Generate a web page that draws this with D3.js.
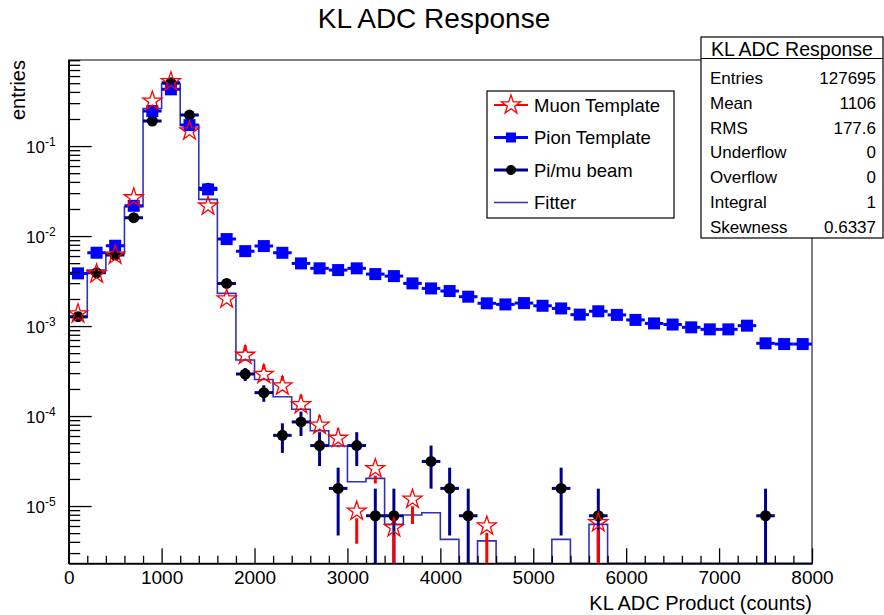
<!DOCTYPE html>
<html>
<head>
<meta charset="utf-8">
<script src="https://cdn.jsdelivr.net/npm/d3@7"></script>
<style>
body { margin: 0; background: #fff; }
svg text { font-family: "Liberation Sans", Arial, Helvetica, sans-serif; fill: #000; }
</style>
</head>
<body>
<script>
// histogram bins, 200 counts wide
var binCenters = d3.range(100, 8000, 200);
var binHalf = 100;

var pionTemplate = [0.00385, 0.00653, 0.00781, 0.0217, 0.245, 0.427, 0.171, 0.033, 0.00926, 0.0068,
  0.00774, 0.00652, 0.00497, 0.00438, 0.00419, 0.00438, 0.00378, 0.00359, 0.00298, 0.00262,
  0.00245, 0.00212, 0.00179, 0.00174, 0.0018, 0.00168, 0.00157, 0.00134, 0.00146, 0.00133,
  0.00117, 0.00107, 0.00104, 0.000968, 0.000919, 0.000919, 0.00101, 0.000643, 0.000631, 0.000631];

var muonTemplate = [0.0014, 0.0039, 0.0063, 0.0273, 0.324, 0.532, 0.151, 0.0221, 0.00205, 0.000485,
  0.000298, 0.000221, 0.000137, 8.1e-5, 5.8e-5, 9.0e-6, 2.67e-5, 5.9e-6, 1.22e-5, 0,
  0, 0, 6.15e-6, 0, 0, 0, 0, 0, 6.7e-6, 0,
  0, 0, 0, 0, 0, 0, 0, 0, 0, 0];
var muonErr = [0, 0, 0, 0, 0, 0, 0, 0, 0, 3.8e-5,
  3.0e-5, 2.6e-5, 2.0e-5, 1.6e-5, 1.3e-5, 5.2e-6, 8.9e-6, 4.2e-6, 5.9e-6, 0,
  0, 0, 4.3e-6, 0, 0, 0, 0, 0, 4.5e-6, 0,
  0, 0, 0, 0, 0, 0, 0, 0, 0, 0];

var beam = [0.00127, 0.0039, 0.00615, 0.016, 0.19, 0.505, 0.221, 0.0339, 0.00298, 0.000293,
  0.000182, 6.1e-5, 8.6e-5, 4.7e-5, 1.57e-5, 4.7e-5, 7.8e-6, 7.8e-6, 0, 3.13e-5,
  1.57e-5, 7.8e-6, 0, 0, 0, 0, 1.57e-5, 0, 7.8e-6, 0,
  0, 0, 0, 0, 0, 0, 0, 7.8e-6, 0, 0];
var beamErr = [0.00010, 0.00018, 0.00022, 0.00035, 0.0012, 0.002, 0.0013, 0.0005, 0.00015, 4.8e-5,
  3.8e-5, 2.2e-5, 2.6e-5, 1.92e-5, 1.1e-5, 1.92e-5, 7.8e-6, 7.8e-6, 0, 1.57e-5,
  1.1e-5, 7.8e-6, 0, 0, 0, 0, 1.1e-5, 0, 7.8e-6, 0,
  0, 0, 0, 0, 0, 0, 0, 7.8e-6, 0, 0];

var fitter = [0.00125, 0.00419, 0.00641, 0.0212, 0.262, 0.489, 0.171, 0.0256, 0.00231, 0.000419,
  0.000255, 0.000164, 0.000119, 6.87e-5, 4.64e-5, 1.86e-5, 2.03e-5, 6.25e-6, 7.94e-6, 8.43e-6,
  4.26e-6, 0, 4.1e-6, 0, 0, 0, 4.26e-6, 0, 6.25e-6, 0,
  0, 0, 0, 0, 0, 0, 0, 0, 0, 0];

var xTicks = [0, 1000, 2000, 3000, 4000, 5000, 6000, 7000, 8000];
var yTicks = [1e-5, 1e-4, 1e-3, 1e-2, 1e-1];
var yTickExp = ["-5", "-4", "-3", "-2", "-1"];

var legendLabels = ["Muon Template", "Pion Template", "Pi/mu beam", "Fitter"];
var statsTitle = "KL ADC Response";
var statsNames = ["Entries", "Mean", "RMS", "Underflow", "Overflow", "Integral", "Skewness"];
var statsValues = ["127695", "1106", "177.6", "0", "0", "1", "0.6337"];

var muonColor = "#ff0000", pionColor = "#0000ff", beamColor = "#00008b", fitColor = "#3232b4";

var margin = {top: 60, right: 72, bottom: 51.7, left: 68.7};
var width = 884 - margin.left - margin.right,
    height = 615 - margin.top - margin.bottom;

var root = d3.select("body").append("svg")
  .attr("width", 884)
  .attr("height", 615);

var svg = root.append("g")
  .attr("transform", "translate(" + margin.left + "," + margin.top + ")");

var x = d3.scaleLinear().domain([0, 8000]).range([0, width]);
var y = d3.scaleLog().domain([2.31e-6, 0.905]).range([height, 0]).clamp(true);
var yMin = y.domain()[0];

function yv(v) { return v > yMin ? y(v) : height; }

root.append("defs").append("clipPath").attr("id", "plotclip")
  .append("rect").attr("width", width).attr("height", height);

// frame
svg.append("rect")
  .attr("width", width).attr("height", height)
  .style("fill", "none").style("stroke", "#000").style("stroke-width", 1);

var plot = svg.append("g").attr("clip-path", "url(#plotclip)");

// fitter step histogram
var pts = [[x(0), height]];
fitter.forEach(function(v, i) {
  pts.push([x(binCenters[i] - binHalf), yv(v)]);
  pts.push([x(binCenters[i] + binHalf), yv(v)]);
});
pts.push([x(8000), height]);
plot.append("path")
  .attr("d", d3.line()(pts))
  .style("fill", "none").style("stroke", fitColor).style("stroke-width", 1.6);

// beam data
var beamData = beam.map(function(v, i) { return {c: binCenters[i], v: v, e: beamErr[i]}; })
  .filter(function(d) { return d.v > 0; });

var gb = plot.append("g");
gb.selectAll(".bh").data(beamData).enter().append("line")
  .attr("x1", function(d) { return x(d.c - binHalf); })
  .attr("x2", function(d) { return x(d.c + binHalf); })
  .attr("y1", function(d) { return y(d.v); })
  .attr("y2", function(d) { return y(d.v); })
  .style("stroke", beamColor).style("stroke-width", 3);
gb.selectAll(".bv").data(beamData).enter().append("line")
  .attr("x1", function(d) { return x(d.c); })
  .attr("x2", function(d) { return x(d.c); })
  .attr("y1", function(d) { return yv(d.v + d.e); })
  .attr("y2", function(d) { return yv(d.v - d.e); })
  .style("stroke", beamColor).style("stroke-width", 3);
gb.selectAll("circle").data(beamData).enter().append("circle")
  .attr("cx", function(d) { return x(d.c); })
  .attr("cy", function(d) { return y(d.v); })
  .attr("r", 5.5)
  .style("fill", "#000");

// pion template
var pionData = pionTemplate.map(function(v, i) { return {c: binCenters[i], v: v}; });
var gp = plot.append("g");
gp.selectAll("line").data(pionData).enter().append("line")
  .attr("x1", function(d) { return x(d.c - binHalf); })
  .attr("x2", function(d) { return x(d.c + binHalf); })
  .attr("y1", function(d) { return y(d.v); })
  .attr("y2", function(d) { return y(d.v); })
  .style("stroke", pionColor).style("stroke-width", 3);
gp.selectAll("rect").data(pionData).enter().append("rect")
  .attr("x", function(d) { return x(d.c) - 6; })
  .attr("y", function(d) { return y(d.v) - 6; })
  .attr("width", 12).attr("height", 12)
  .style("fill", pionColor);

// muon template
var muonData = muonTemplate.map(function(v, i) { return {c: binCenters[i], v: v, e: muonErr[i]}; })
  .filter(function(d) { return d.v > 0; });
var star = d3.symbol().type(d3.symbolStar).size(112);
var gm = plot.append("g");
gm.selectAll(".mu").data(muonData.filter(function(d) { return d.e > 0; })).enter().append("line")
  .attr("x1", function(d) { return x(d.c); })
  .attr("x2", function(d) { return x(d.c); })
  .attr("y1", function(d) { return yv(d.v + d.e); })
  .attr("y2", function(d) { return Math.min(yv(d.v + d.e) + 0.0001, y(d.v) - 9); })
  .style("stroke", muonColor).style("stroke-width", 3);
gm.selectAll(".ml").data(muonData.filter(function(d) { return d.e > 0; })).enter().append("line")
  .attr("x1", function(d) { return x(d.c); })
  .attr("x2", function(d) { return x(d.c); })
  .attr("y1", function(d) { return y(d.v) + 8; })
  .attr("y2", function(d) { return Math.max(yv(d.v - d.e), y(d.v) + 8); })
  .style("stroke", muonColor).style("stroke-width", 3);
gm.selectAll("path").data(muonData).enter().append("path")
  .attr("d", star)
  .attr("transform", function(d) { return "translate(" + x(d.c) + "," + (y(d.v) + 1) + ")"; })
  .style("fill", "none").style("stroke", muonColor).style("stroke-width", 1.3);

// axes
var xMinor = d3.range(0, 8001, 200).filter(function(d) { return d % 1000 != 0; });
var xAxis = d3.axisBottom(x).tickValues(xTicks).tickSize(-15).tickSizeOuter(0).tickPadding(7)
  .tickFormat(d3.format("d"));
var gx = svg.append("g")
  .attr("transform", "translate(0," + height + ")")
  .call(xAxis);
gx.append("g").call(d3.axisBottom(x).tickValues(xMinor).tickSize(-7.5).tickSizeOuter(0).tickFormat(""));
gx.selectAll("text").style("font-size", "19px").style("fill", "#000");
gx.selectAll("line, path").style("stroke", "#000").style("stroke-width", 1.3);

var yMinor = [];
[-6, -5, -4, -3, -2, -1].forEach(function(k) {
  for (var m = 2; m <= 9; m++) {
    var v = m * Math.pow(10, k);
    if (v > yMin && v < y.domain()[1]) yMinor.push(v);
  }
});
var gy = svg.append("g")
  .call(d3.axisLeft(y).tickValues(yTicks).tickSize(-23).tickSizeOuter(0).tickFormat(""));
gy.append("g").call(d3.axisLeft(y).tickValues(yMinor).tickSize(-11.5).tickSizeOuter(0).tickFormat(""));
gy.selectAll("line, path").style("stroke", "#000").style("stroke-width", 1.3);

var ylab = svg.append("g").selectAll("text").data(yTicks).enter().append("text")
  .attr("x", -13)
  .attr("y", function(d) { return y(d) + 7; })
  .attr("text-anchor", "end")
  .style("font-size", "17px");
ylab.append("tspan").text("10");
ylab.append("tspan").attr("dy", -7).style("font-size", "12px")
  .text(function(d, i) { return yTickExp[i]; });

// titles
root.append("text")
  .attr("x", 434).attr("y", 28)
  .attr("text-anchor", "middle")
  .style("font-size", "28px")
  .text("KL ADC Response");

svg.append("text")
  .attr("x", width).attr("y", height + 47)
  .attr("text-anchor", "end")
  .style("font-size", "20px")
  .text("KL ADC Product (counts)");

svg.append("text")
  .attr("transform", "translate(" + (25 - margin.left) + ",0) rotate(-90)")
  .attr("text-anchor", "end")
  .style("font-size", "20px")
  .text("entries");

// legend
var leg = root.append("g").attr("transform", "translate(487,91)");
leg.append("rect").attr("width", 187).attr("height", 127)
  .style("fill", "#fff").style("stroke", "#000").style("stroke-width", 1.2);
var legRows = leg.selectAll(".row").data(legendLabels).enter().append("g")
  .attr("transform", function(d, i) { return "translate(0," + (14 + i * 32.5) + ")"; });
var legStroke = [muonColor, pionColor, beamColor, fitColor];
var legWidth = [2, 3, 3, 1.6];
legRows.append("line")
  .attr("x1", 7).attr("x2", 41)
  .style("stroke", function(d, i) { return legStroke[i]; })
  .style("stroke-width", function(d, i) { return legWidth[i]; });
legRows.filter(function(d, i) { return i == 0; }).append("path")
  .attr("d", star).attr("transform", "translate(24,0)")
  .style("fill", "#fff").style("stroke", muonColor).style("stroke-width", 1.3);
legRows.filter(function(d, i) { return i == 1; }).append("rect")
  .attr("x", 19).attr("y", -5).attr("width", 10).attr("height", 10).style("fill", pionColor);
legRows.filter(function(d, i) { return i == 2; }).append("circle")
  .attr("cx", 24).attr("r", 5).style("fill", "#000");
legRows.append("text")
  .attr("x", 47).attr("y", 6.5)
  .style("font-size", "18.5px")
  .text(function(d) { return d; });

// stats box
var st = root.append("g").attr("transform", "translate(701,37)");
st.append("rect").attr("width", 182).attr("height", 201)
  .style("fill", "#fff").style("stroke", "#000").style("stroke-width", 1.2);
st.append("line").attr("x1", 0).attr("x2", 182).attr("y1", 21.5).attr("y2", 21.5)
  .style("stroke", "#000").style("stroke-width", 1.2);
st.append("text").attr("x", 91).attr("y", 18.5).attr("text-anchor", "middle")
  .style("font-size", "19.5px").text(statsTitle);
st.selectAll(".sn").data(statsNames).enter().append("text")
  .attr("x", 9).attr("y", function(d, i) { return 47 + i * 24.8; })
  .style("font-size", "17px").text(function(d) { return d; });
st.selectAll(".sv").data(statsValues).enter().append("text")
  .attr("x", 175).attr("y", function(d, i) { return 47 + i * 24.8; })
  .attr("text-anchor", "end")
  .style("font-size", "17px").text(function(d) { return d; });
</script>
</body>
</html>
